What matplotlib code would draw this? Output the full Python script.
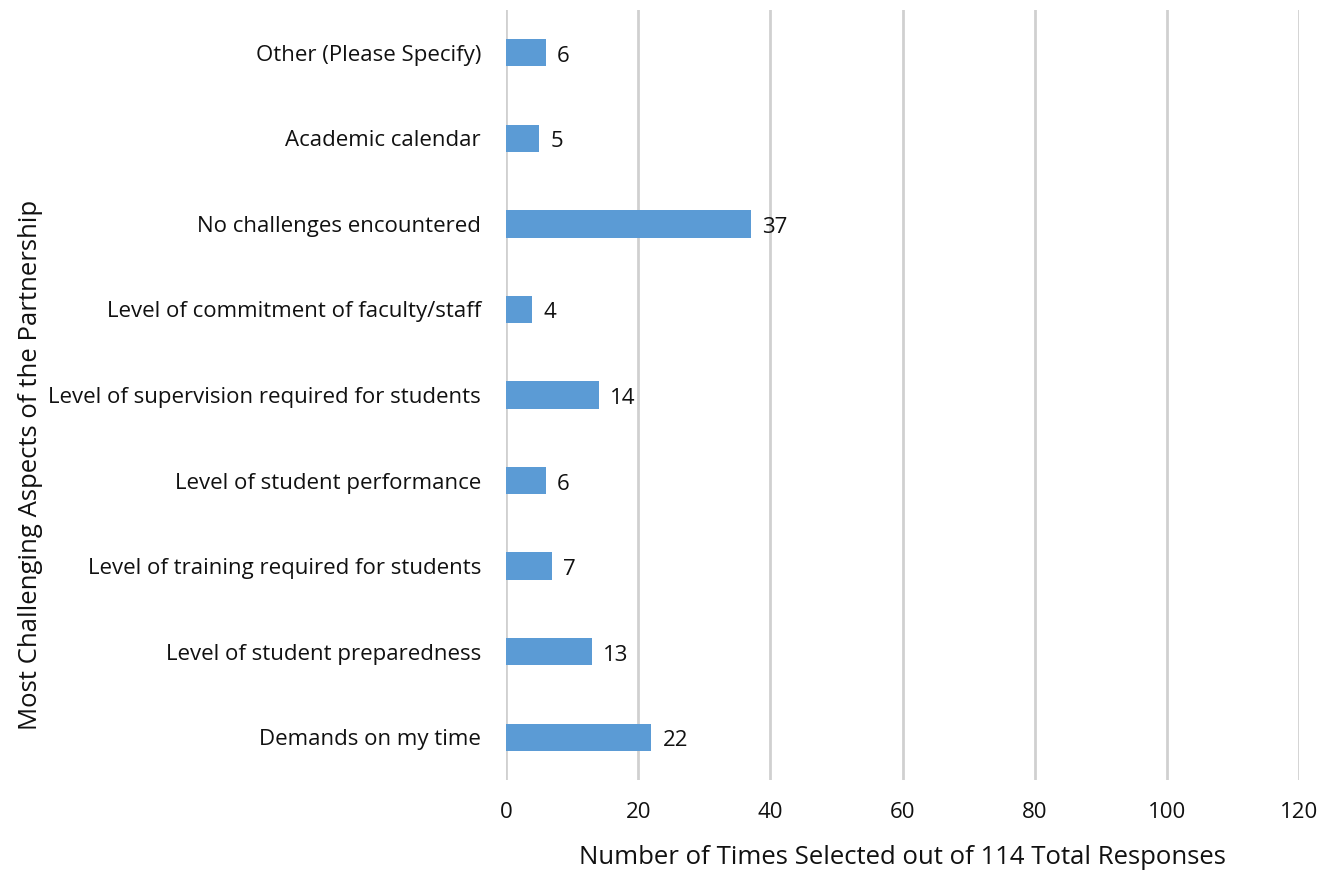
import matplotlib.pyplot as plt

plt.rcParams['font.family'] = ['Open Sans', 'DejaVu Sans']

# data, bottom to top as drawn
categories = [
    "Demands on my time",
    "Level of student preparedness",
    "Level of training required for students",
    "Level of student performance",
    "Level of supervision required for students",
    "Level of commitment of faculty/staff",
    "No challenges encountered",
    "Academic calendar",
    "Other (Please Specify)",
]
counts = [22, 13, 7, 6, 14, 4, 37, 5, 6]
x_ticks = [0, 20, 40, 60, 80, 100, 120]

fig = plt.figure(figsize=(13.37, 8.71), dpi=100)
ax = fig.add_axes([0.3785, 0.1045, 0.5931, 0.884])

bars = ax.barh(range(len(categories)), counts, height=0.32, color='#5B9BD5', zorder=3)

# value labels just right of each bar
for bar, val in zip(bars, counts):
    ax.annotate(str(val), (bar.get_width(), bar.get_y() + bar.get_height() / 2),
                xytext=(8, -2.5), textcoords='offset points',
                va='center', ha='left', fontsize=16, color='#111111')

ax.set_xlim(0, 120)
ax.set_ylim(-0.5, len(categories) - 0.5)
ax.set_xticks(x_ticks)
ax.set_yticks(range(len(categories)))
ax.set_yticklabels(categories)
ax.grid(axis='x', color='#D0D0D0', linewidth=2, zorder=0)
ax.grid(axis='y', visible=False)
for s in ax.spines.values():
    s.set_visible(False)
ax.tick_params(axis='both', length=0, labelsize=16, colors='#111111')
ax.tick_params(axis='x', pad=16)
ax.tick_params(axis='y', pad=18)

fig.text(0.6747, 0.015, "Number of Times Selected out of 114 Total Responses",
         ha='center', va='center', fontsize=18.5, color='#111111')
fig.text(0.0225, 0.466, "Most Challenging Aspects of the Partnership",
         ha='center', va='center', rotation=90, fontsize=18.5, color='#111111')

fig.savefig('out.png', dpi=100)
